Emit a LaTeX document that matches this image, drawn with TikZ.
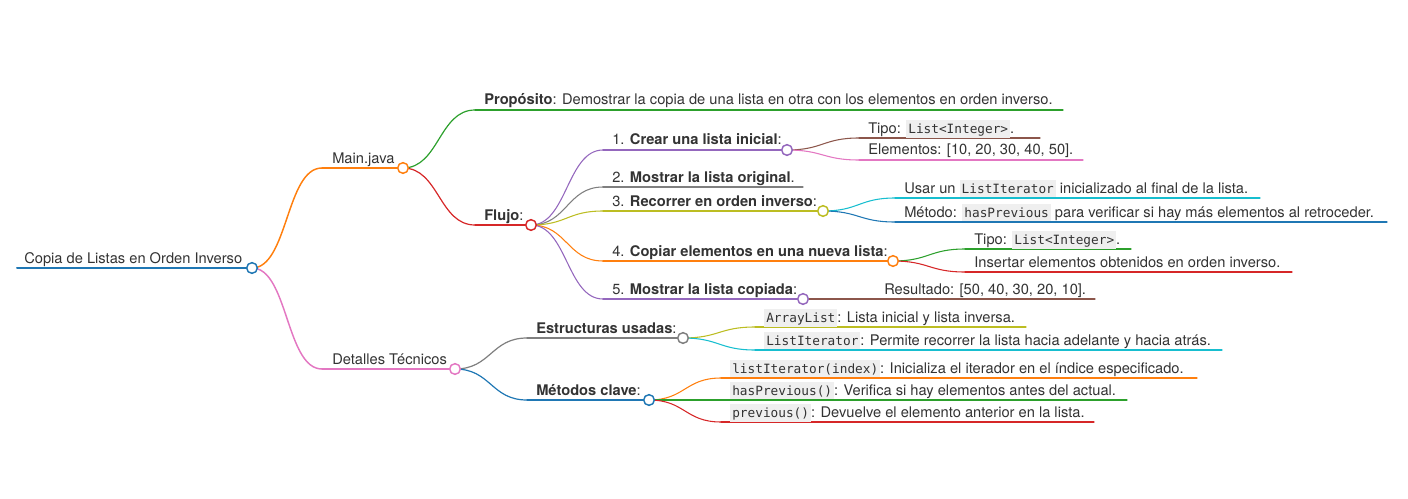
\documentclass[tikz,border=0pt]{standalone}
\usepackage{fontspec}
\setmainfont{TeX Gyre Heros}
\setmonofont{DejaVu Sans Mono}[Scale=0.87]
\definecolor{cblue}{HTML}{1F77B4}
\definecolor{corange}{HTML}{FF7F0E}
\definecolor{cgreen}{HTML}{2CA02C}
\definecolor{cred}{HTML}{D62728}
\definecolor{cpurple}{HTML}{9467BD}
\definecolor{cbrown}{HTML}{8C564B}
\definecolor{cpink}{HTML}{E377C2}
\definecolor{cgray}{HTML}{7F7F7F}
\definecolor{colive}{HTML}{BCBD22}
\definecolor{ccyan}{HTML}{17BECF}
\definecolor{ink}{HTML}{333333}
\definecolor{codebg}{HTML}{EFEFEF}
\newcommand{\code}[1]{{\setlength{\fboxsep}{1.5pt}\colorbox{codebg}{\rule[-1.5pt]{0pt}{10pt}\ttfamily #1}}}
\tikzset{
  txt/.style={anchor=base west, inner sep=0pt, text=ink, font=\fontsize{11}{13}\selectfont},
  dot/.style={circle, draw=#1, fill=white, minimum size=8pt, inner sep=0pt, line width=1.1pt},
  w0/.style={line width=1.5pt},
  w1/.style={line width=1.1pt},
  w2/.style={line width=0.9pt},
  w3/.style={line width=0.8pt},
  link/.style={line cap=round}
}
\begin{document}
\begin{tikzpicture}[x=0.75pt, y=-0.75pt]
  \useasboundingbox (0,0) rectangle (1408,499);
  % anchors of the branches
  \coordinate (root-s) at (17,268);   \coordinate (root) at (252,268);
  \coordinate (main-s) at (322,168);  \coordinate (main) at (403,168);
  \coordinate (det-s) at (322,369);   \coordinate (det) at (455,369);
  \coordinate (prop-s) at (475,110);  \coordinate (prop-e) at (1063,110);
  \coordinate (flujo-s) at (475,225); \coordinate (flujo) at (531,225);
  \coordinate (p1-s) at (603,150);    \coordinate (p1) at (787,150);
  \coordinate (p2-s) at (603,187);    \coordinate (p2-e) at (803,187);
  \coordinate (p3-s) at (603,211);    \coordinate (p3) at (823,211);
  \coordinate (p4-s) at (603,261);    \coordinate (p4) at (893,261);
  \coordinate (p5-s) at (603,299);    \coordinate (p5) at (803,299);
  \coordinate (p1a-s) at (859,138);   \coordinate (p1a-e) at (1040,138);
  \coordinate (p1b-s) at (859,160);   \coordinate (p1b-e) at (1083,160);
  \coordinate (p3a-s) at (895,198);   \coordinate (p3a-e) at (1260,198);
  \coordinate (p3b-s) at (895,222);   \coordinate (p3b-e) at (1387,222);
  \coordinate (p4a-s) at (965,249);   \coordinate (p4a-e) at (1131,249);
  \coordinate (p4b-s) at (965,272);   \coordinate (p4b-e) at (1292,272);
  \coordinate (p5a-s) at (875,299);   \coordinate (p5a-e) at (1095,299);
  \coordinate (estr-s) at (527,338);  \coordinate (estr) at (683,338);
  \coordinate (estra-s) at (755,327); \coordinate (estra-e) at (1026,327);
  \coordinate (estrb-s) at (755,350); \coordinate (estrb-e) at (1222,350);
  \coordinate (met-s) at (527,400);   \coordinate (met) at (649,400);
  \coordinate (meta-s) at (721,378);  \coordinate (meta-e) at (1197,378);
  \coordinate (metb-s) at (721,400);  \coordinate (metb-e) at (1127,400);
  \coordinate (metc-s) at (721,422);  \coordinate (metc-e) at (1094,422);

  % underlines
  \begin{scope}[link]
    \draw[cblue, w0] (root-s) -- (root);
    \draw[corange, w1] (main-s) -- (main);
    \draw[cpink, w1] (det-s) -- (det);
    \draw[cgreen, w2] (prop-s) -- (prop-e);
    \draw[cred, w2] (flujo-s) -- (flujo);
    \draw[cpurple, w3] (p1-s) -- (p1);
    \draw[cgray, w3] (p2-s) -- (p2-e);
    \draw[colive, w3] (p3-s) -- (p3);
    \draw[corange, w3] (p4-s) -- (p4);
    \draw[cpurple, w3] (p5-s) -- (p5);
    \draw[cbrown, w3] (p1a-s) -- (p1a-e);
    \draw[cpink, w3] (p1b-s) -- (p1b-e);
    \draw[ccyan, w3] (p3a-s) -- (p3a-e);
    \draw[cblue, w3] (p3b-s) -- (p3b-e);
    \draw[cgreen, w3] (p4a-s) -- (p4a-e);
    \draw[cred, w3] (p4b-s) -- (p4b-e);
    \draw[cbrown, w3] (p5a-s) -- (p5a-e);
    \draw[cgray, w2] (estr-s) -- (estr);
    \draw[colive, w3] (estra-s) -- (estra-e);
    \draw[ccyan, w3] (estrb-s) -- (estrb-e);
    \draw[cblue, w2] (met-s) -- (met);
    \draw[corange, w3] (meta-s) -- (meta-e);
    \draw[cgreen, w3] (metb-s) -- (metb-e);
    \draw[cred, w3] (metc-s) -- (metc-e);
  \end{scope}

  % links from parent to child
  \begin{scope}[link]
    \draw[corange, w1] (root) .. controls +(36,0) and +(-36,0) .. (main-s);
    \draw[cpink, w1] (root) .. controls +(36,0) and +(-36,0) .. (det-s);
    \draw[cgreen, w2] (main) .. controls +(36,0) and +(-36,0) .. (prop-s);
    \draw[cred, w2] (main) .. controls +(36,0) and +(-36,0) .. (flujo-s);
    \draw[cpurple, w3] (flujo) .. controls +(36,0) and +(-36,0) .. (p1-s);
    \draw[cgray, w3] (flujo) .. controls +(36,0) and +(-36,0) .. (p2-s);
    \draw[colive, w3] (flujo) .. controls +(36,0) and +(-36,0) .. (p3-s);
    \draw[corange, w3] (flujo) .. controls +(36,0) and +(-36,0) .. (p4-s);
    \draw[cpurple, w3] (flujo) .. controls +(36,0) and +(-36,0) .. (p5-s);
    \draw[cbrown, w3] (p1) .. controls +(36,0) and +(-36,0) .. (p1a-s);
    \draw[cpink, w3] (p1) .. controls +(36,0) and +(-36,0) .. (p1b-s);
    \draw[ccyan, w3] (p3) .. controls +(36,0) and +(-36,0) .. (p3a-s);
    \draw[cblue, w3] (p3) .. controls +(36,0) and +(-36,0) .. (p3b-s);
    \draw[cgreen, w3] (p4) .. controls +(36,0) and +(-36,0) .. (p4a-s);
    \draw[cred, w3] (p4) .. controls +(36,0) and +(-36,0) .. (p4b-s);
    \draw[cbrown, w3] (p5) .. controls +(36,0) and +(-36,0) .. (p5a-s);
    \draw[cgray, w2] (det) .. controls +(36,0) and +(-36,0) .. (estr-s);
    \draw[cblue, w2] (det) .. controls +(36,0) and +(-36,0) .. (met-s);
    \draw[colive, w3] (estr) .. controls +(36,0) and +(-36,0) .. (estra-s);
    \draw[ccyan, w3] (estr) .. controls +(36,0) and +(-36,0) .. (estrb-s);
    \draw[corange, w3] (met) .. controls +(36,0) and +(-36,0) .. (meta-s);
    \draw[cgreen, w3] (met) .. controls +(36,0) and +(-36,0) .. (metb-s);
    \draw[cred, w3] (met) .. controls +(36,0) and +(-36,0) .. (metc-s);
  \end{scope}

  % circles
  \node[dot=cblue] (root-o) at (root) {};
  \node[dot=corange] (main-o) at (main) {};
  \node[dot=cpink] (det-o) at (det) {};
  \node[dot=cred] (flujo-o) at (flujo) {};
  \node[dot=cpurple] (p1-o) at (p1) {};
  \node[dot=colive] (p3-o) at (p3) {};
  \node[dot=corange] (p4-o) at (p4) {};
  \node[dot=cpurple] (p5-o) at (p5) {};
  \node[dot=cgray] (estr-o) at (estr) {};
  \node[dot=cblue] (met-o) at (met) {};

  % texts
  \node[txt] (root-t) at (24,263) {Copia de Listas en Orden Inverso};
  \node[txt] (main-t) at (332,163) {Main.java};
  \node[txt] (det-t) at (332,364) {Detalles Técnicos};
  \node[txt] (prop-t) at (484,105) {\textbf{Propósito}: Demostrar la copia de una lista en otra con los elementos en orden inverso.};
  \node[txt] (flujo-t) at (484,220) {\textbf{Flujo}:};
  \node[txt] (p1-t) at (612,145) {1. \textbf{Crear una lista inicial}:};
  \node[txt] (p2-t) at (612,182) {2. \textbf{Mostrar la lista original}.};
  \node[txt] (p3-t) at (612,206) {3. \textbf{Recorrer en orden inverso}:};
  \node[txt] (p4-t) at (612,256) {4. \textbf{Copiar elementos en una nueva lista}:};
  \node[txt] (p5-t) at (612,294) {5. \textbf{Mostrar la lista copiada}:};
  \node[txt] (p1a-t) at (868,133) {Tipo: \code{List<Integer>}.};
  \node[txt] (p1b-t) at (868,155) {Elementos: [10, 20, 30, 40, 50].};
  \node[txt] (p3a-t) at (904,193) {Usar un \code{ListIterator} inicializado al final de la lista.};
  \node[txt] (p3b-t) at (904,217) {Método: \code{hasPrevious} para verificar si hay más elementos al retroceder.};
  \node[txt] (p4a-t) at (974,244) {Tipo: \code{List<Integer>}.};
  \node[txt] (p4b-t) at (974,267) {Insertar elementos obtenidos en orden inverso.};
  \node[txt] (p5a-t) at (884,294) {Resultado: [50, 40, 30, 20, 10].};
  \node[txt] (estr-t) at (536,333) {\textbf{Estructuras usadas}:};
  \node[txt] (estra-t) at (764,322) {\code{ArrayList}: Lista inicial y lista inversa.};
  \node[txt] (estrb-t) at (764,345) {\code{ListIterator}: Permite recorrer la lista hacia adelante y hacia atrás.};
  \node[txt] (met-t) at (536,395) {\textbf{Métodos clave}:};
  \node[txt] (meta-t) at (730,373) {\code{listIterator(index)}: Inicializa el iterador en el índice especificado.};
  \node[txt] (metb-t) at (730,395) {\code{hasPrevious()}: Verifica si hay elementos antes del actual.};
  \node[txt] (metc-t) at (730,417) {\code{previous()}: Devuelve el elemento anterior en la lista.};
\end{tikzpicture}
\end{document}
